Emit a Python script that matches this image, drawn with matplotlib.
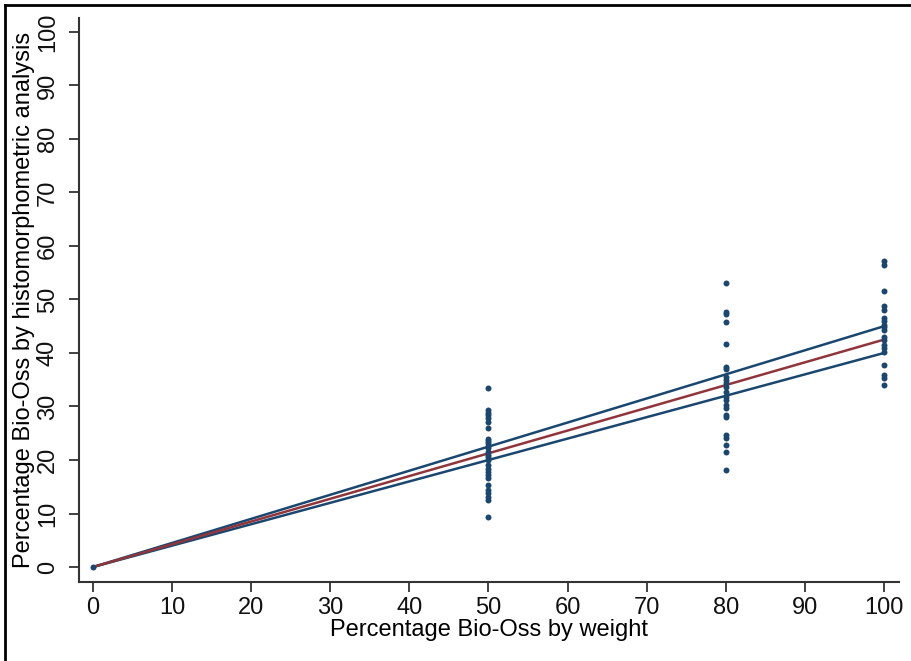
import matplotlib
matplotlib.use("Agg")
import matplotlib.pyplot as plt
from matplotlib.lines import Line2D
import numpy as np

plt.rcParams['font.family'] = ['Liberation Sans', 'DejaVu Sans']

# Observed points
x_vals = [0, 50, 80, 100]
y_0 = [0.0]
y_50 = [33.4, 29.3, 28.8, 28.4, 27.9, 27.1, 25.9, 24.0, 23.6, 23.1, 22.6, 22.2, 21.5,
        20.9, 20.5, 20.0, 19.1, 18.4, 17.8, 17.2, 16.6, 15.3, 14.4, 13.8, 13.1, 12.5, 9.4]
y_80 = [53.0, 47.7, 47.3, 45.7, 41.6, 37.3, 37.0, 35.5, 35.0, 34.4, 33.7, 32.8, 31.8,
        31.2, 30.3, 29.8, 28.4, 28.1, 24.7, 24.2, 22.8, 21.5, 18.1]
y_100 = [57.1, 56.4, 51.5, 48.7, 48.0, 46.5, 45.9, 45.2, 44.8, 44.3, 42.9, 42.4, 41.5,
         40.9, 40.2, 37.8, 35.9, 35.3, 34.0]

# Fitted line through origin and its limits (slopes)
slope_fit = 0.425
slope_lo = 0.40
slope_hi = 0.45

xticks = [0, 10, 20, 30, 40, 50, 60, 70, 80, 90, 100]
yticks = [0, 10, 20, 30, 40, 50, 60, 70, 80, 90, 100]

navy = '#1a476f'
maroon = '#90353b'

fig = plt.figure(figsize=(9.11, 6.61), dpi=100)
ax = fig.add_axes([79/911, 79/661, (899-79)/911, (582-18)/661])

xs = []
ys = []
for xv, yl in zip(x_vals, [y_0, y_50, y_80, y_100]):
    xs += [xv] * len(yl)
    ys += yl

xline = np.array([0, 100])
ax.plot(xline, slope_hi * xline, color=navy, lw=1.8, zorder=2)
ax.plot(xline, slope_lo * xline, color=navy, lw=1.8, zorder=2)
ax.plot(xline, slope_fit * xline, color=maroon, lw=1.8, zorder=3)
ax.plot(xs, ys, 'o', color=navy, ms=4.3, mew=0, zorder=4)

ax.set_xlim(-1.77, 101.9)
ax.set_ylim(-2.8, 102.6)
ax.set_xticks(xticks)
ax.set_yticks(yticks)
ax.set_yticklabels([str(t) for t in yticks], rotation=90, va='center')
for s in ['top', 'right']:
    ax.spines[s].set_visible(False)
for s in ['left', 'bottom']:
    ax.spines[s].set_linewidth(1.5)
    ax.spines[s].set_color('#333333')
ax.tick_params(axis='both', direction='out', length=7.5, width=1.3, color='#333333',
               labelsize=17, labelcolor='#111111')
ax.tick_params(axis='x', pad=3)
ax.tick_params(axis='y', pad=7)

ax.set_xlabel('Percentage Bio-Oss by weight', fontsize=17, labelpad=0)
ax.set_ylabel('Percentage Bio-Oss by histomorphometric analysis', fontsize=17, labelpad=1)

# figure frame (left and top visible)
fig.add_artist(Line2D([5/911, 5/911], [0, 1 - 5/661], transform=fig.transFigure, color='black', lw=2))
fig.add_artist(Line2D([5/911, 1], [1 - 5/661, 1 - 5/661], transform=fig.transFigure, color='black', lw=2))

fig.savefig('out.png', dpi=100)
